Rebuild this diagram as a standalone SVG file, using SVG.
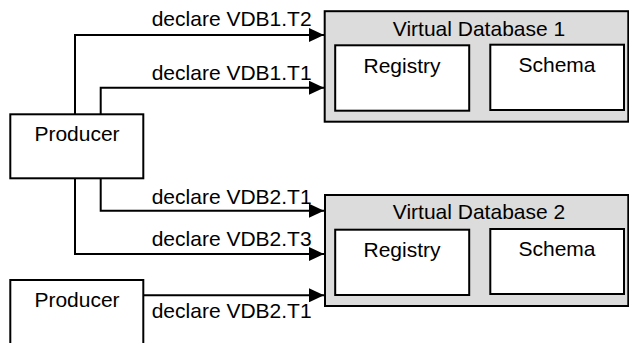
<svg xmlns="http://www.w3.org/2000/svg" width="629" height="343" viewBox="0 0 629 343">
<defs>
<marker id="arr" viewBox="0 0 15 14" refX="15" refY="7" markerWidth="15" markerHeight="14" markerUnits="userSpaceOnUse" orient="auto">
<path d="M0,0 L15,7 L0,14 Z" fill="#000"/>
</marker>
<style>
text{font-family:"Liberation Sans",Arial,sans-serif;font-size:21px;fill:#000}
.c{text-anchor:middle}
.box{fill:#fff;stroke:#000;stroke-width:2}
.vdb{fill:#dcdcdc;stroke:#000;stroke-width:2}
.conn path{fill:none;stroke:#000;stroke-width:2}
</style>
</defs>
<rect width="629" height="343" fill="#fff"/>
<g id="vdb1">
<rect class="vdb" x="324.7" y="11.2" width="303.6" height="110.5"/>
<text class="c" x="479" y="35.7">Virtual Database 1</text>
</g>
<g id="registry1">
<rect class="box" x="335.2" y="45.3" width="134" height="65.4"/>
<text class="c" x="402" y="72.7">Registry</text>
</g>
<g id="schema1">
<rect class="box" x="490.3" y="44.7" width="133.7" height="65.3"/>
<text class="c" x="557" y="71.7">Schema</text>
</g>
<g id="vdb2">
<rect class="vdb" x="325" y="195" width="303.3" height="111"/>
<text class="c" x="479" y="219.3">Virtual Database 2</text>
</g>
<g id="registry2">
<rect class="box" x="335.2" y="229.7" width="134" height="65.3"/>
<text class="c" x="402" y="257.3">Registry</text>
</g>
<g id="schema2">
<rect class="box" x="490.3" y="229" width="133.7" height="65"/>
<text class="c" x="557" y="256">Schema</text>
</g>
<g id="producer1">
<rect class="box" x="10.3" y="114.3" width="133" height="64"/>
<text class="c" x="77" y="140.7">Producer</text>
</g>
<g id="producer2">
<rect class="box" x="10.3" y="280" width="133" height="80"/>
<text class="c" x="77" y="307.3">Producer</text>
</g>
<g id="connectors" class="conn">
<path d="M75,114.3 V35 H324" marker-end="url(#arr)"/>
<path d="M100.7,114.3 V87.7 H324" marker-end="url(#arr)"/>
<path d="M100.7,178.3 V210.7 H324" marker-end="url(#arr)"/>
<path d="M75,178.3 V254 H324" marker-end="url(#arr)"/>
<path d="M143.3,295.3 H324" marker-end="url(#arr)"/>
<text x="151.7" y="25.7">declare VDB1.T2</text>
<text x="151.7" y="80">declare VDB1.T1</text>
<text x="151.7" y="204">declare VDB2.T1</text>
<text x="151.7" y="245.7">declare VDB2.T3</text>
<text x="151.7" y="318.3">declare VDB2.T1</text>
</g>
</svg>
